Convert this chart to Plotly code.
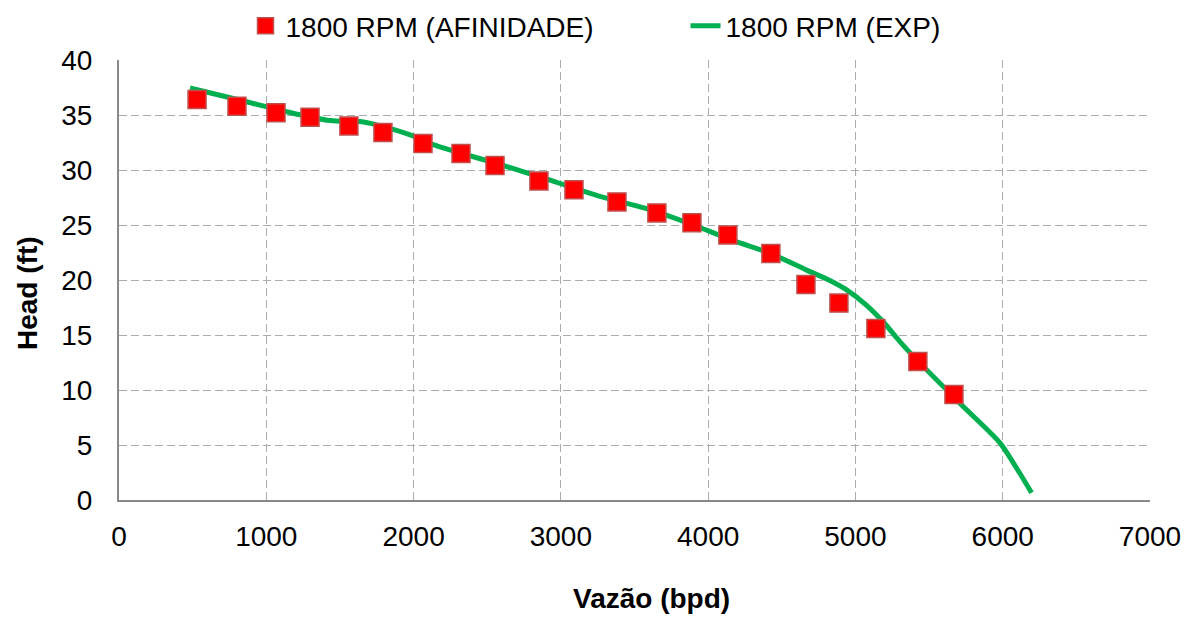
import plotly.graph_objects as go

# Affinity-law points (1800 RPM)
afin_x = [530, 801, 1066, 1297, 1561, 1792, 2064, 2322, 2553, 2851, 3089, 3381,
          3652, 3890, 4134, 4426, 4664, 4888, 5139, 5424, 5669]
afin_y = [36.4, 35.8, 35.2, 34.8, 34.0, 33.4, 32.4, 31.5, 30.4, 29.0, 28.2, 27.1,
          26.1, 25.2, 24.1, 22.4, 19.6, 17.9, 15.6, 12.6, 9.6]

# Experimental curve (1800 RPM)
exp_x = [482, 867, 1138, 1432, 1636, 1749, 1996, 2133, 2587, 2900, 3265, 3605,
         3900, 4168, 4426, 4669, 4820, 4940, 5076, 5188, 5302, 5370, 5709, 5981,
         6071, 6196]
exp_y = [37.45, 36.2, 35.3, 34.5, 34.4, 34.1, 33.1, 32.3, 30.5, 29.2, 27.6, 26.4,
         25.0, 23.6, 22.4, 20.9, 20.0, 19.1, 17.7, 16.2, 14.4, 13.4, 8.8, 5.2,
         3.4, 0.66]

x_ticks = [0, 1000, 2000, 3000, 4000, 5000, 6000, 7000]
y_ticks = [0, 5, 10, 15, 20, 25, 30, 35, 40]

FONT = "Liberation Sans, Arial, sans-serif"
FS = 28

# page body has an 8px margin: figure is sized/placed to compensate
W, H = 1187, 609
L, T, R, B = 111, 52, 45, 117
PW = W - L - R   # 1031
PH = H - T - B   # 440

fig = go.Figure()
fig.add_trace(go.Scatter(
    x=exp_x, y=exp_y, mode="lines", name="1800 RPM (EXP)",
    line=dict(color="#00B050", width=5, shape="spline", smoothing=0.8),
))
fig.add_trace(go.Scatter(
    x=afin_x, y=afin_y, mode="markers", name="1800 RPM (AFINIDADE)",
    marker=dict(symbol="square", size=18, color="#FF0000",
                line=dict(color="#C0504D", width=1.5)),
))

grid = dict(showgrid=True, gridcolor="#ABABAB", griddash="8px,4px", gridwidth=1.3)

fig.update_layout(
    width=W, height=H,
    margin=dict(l=L, r=R, t=T, b=B),
    paper_bgcolor="white", plot_bgcolor="white",
    font=dict(family=FONT, size=FS, color="black"),
    showlegend=True,
    legend=dict(orientation="h", x=(118 + 8.5) / PW, xanchor="left",
                yref="container", y=1 - 18 / H, yanchor="middle",
                font=dict(size=FS), traceorder="reversed",
                entrywidth=395, entrywidthmode="pixels",
                bgcolor="rgba(0,0,0,0)"),
    xaxis=dict(range=[0, 7000], tickvals=x_ticks, ticks="", **grid,
               showline=True, linecolor="#898989", linewidth=2, automargin=False,
               zeroline=False, tickfont=dict(size=FS), ticklabelstandoff=10),
    yaxis=dict(range=[0, 40], tickvals=y_ticks, ticks="", **grid,
               showline=True, linecolor="#898989", linewidth=2, automargin=False,
               zeroline=False, tickfont=dict(size=FS), ticklabelstandoff=19),
    annotations=[
        dict(text="<b>Vazão (bpd)</b>", xref="paper", yref="paper",
             x=(651 - 119) / PW, y=-(598 - 500) / PH, xanchor="center",
             yanchor="middle", showarrow=False, font=dict(size=FS)),
        dict(text="<b>Head (ft)</b>", xref="paper", yref="paper",
             x=-(119 - 27) / PW, y=(500 - 293) / PH, xanchor="center",
             yanchor="middle", showarrow=False, textangle=-90, font=dict(size=FS)),
    ],
)

fig.write_html("out.html")
